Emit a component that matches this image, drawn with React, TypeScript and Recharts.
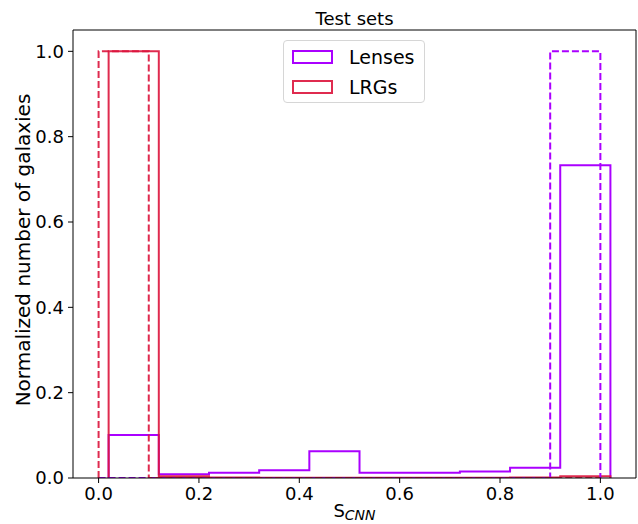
import React from "react";
import {
  ComposedChart,
  Line,
  XAxis,
  YAxis,
  Legend,
  ReferenceLine,
} from "recharts";

// Bin edges (solid histograms are offset by 0.02 from the dashed ones)
const solidEdges = [0.02, 0.12, 0.22, 0.32, 0.42, 0.52, 0.62, 0.72, 0.82, 0.92, 1.02];
const dashedEdges = [0.0, 0.1, 0.2, 0.3, 0.4, 0.5, 0.6, 0.7, 0.8, 0.9, 1.0];

// Normalized counts per bin
const lensesSolid = [0.101, 0.009, 0.0125, 0.018, 0.0625, 0.0125, 0.0125, 0.015, 0.024, 0.733];
const lrgsSolid = [1.0, 0.004, 0.001, 0.0005, 0.0005, 0.0005, 0.0005, 0.0005, 0.001, 0.004];
const lensesDashed = [0, 0, 0, 0, 0, 0, 0, 0, 0, 1.0];
const lrgsDashed = [1.0, 0, 0, 0, 0, 0, 0, 0, 0, 0];

const xTicks = [0.0, 0.2, 0.4, 0.6, 0.8, 1.0];
const yTicks = [0.0, 0.2, 0.4, 0.6, 0.8, 1.0];
const xDomain = [-0.051, 1.071];
const yDomain = [0, 1.05];

const seriesNames = ["Lenses", "LRGs"];
const LENS_COLOR = "#aa00ff";
const LRG_COLOR = "#dc143c";
const seriesColors = [LENS_COLOR, LRG_COLOR];

const FONT = "DejaVu Sans, sans-serif";

function toStep(edges: number[], values: number[]) {
  const pts: { x: number; y: number }[] = [{ x: edges[0], y: 0 }];
  values.forEach((v, i) => pts.push({ x: edges[i], y: v }));
  pts.push({ x: edges[edges.length - 1], y: 0 });
  return pts;
}

const LegendBox = () => (
  <div
    style={{
      width: 142,
      height: 63,
      boxSizing: "border-box",
      border: "1px solid #d6d6d6",
      borderRadius: 4,
      background: "rgba(255,255,255,0.8)",
      fontFamily: FONT,
      fontSize: 19,
      position: "relative",
    }}
  >
    {seriesNames.map((n, i) => (
      <div key={n} style={{ position: "absolute", left: 8, top: 8 + i * 29.5, height: 16, display: "flex", alignItems: "center" }}>
        <div
          style={{
            width: 41,
            height: 14,
            boxSizing: "border-box",
            border: `2px solid ${seriesColors[i]}`,
            opacity: i === 1 ? 0.9 : 1,
          }}
        />
        <span style={{ marginLeft: 16, lineHeight: "16px", color: "#000" }}>{n}</span>
      </div>
    ))}
  </div>
);

const XLabel = (props: any) => {
  const vb = props.viewBox || {};
  const cx = vb.x + vb.width / 2;
  return (
    <text x={cx} y={517} textAnchor="middle" fontFamily={FONT} fill="#000">
      <tspan fontSize={18}>S</tspan>
      <tspan fontSize={14} fontStyle="italic" dy={3}>CNN</tspan>
    </text>
  );
};

const YLabel = (props: any) => {
  const vb = props.viewBox || {};
  const cy = vb.y + vb.height / 2 - 4;
  return (
    <text
      x={30}
      y={cy}
      transform={`rotate(-90, 30, ${cy})`}
      textAnchor="middle"
      fontFamily={FONT}
      fontSize={20}
      fill="#000"
    >
      Normalized number of galaxies
    </text>
  );
};

const Title = (props: any) => {
  const vb = props.viewBox || {};
  const cx = vb.x + vb.width / 2;
  return (
    <text x={cx} y={vb.y - 5} textAnchor="middle" fontFamily={FONT} fontSize={18} fill="#000">
      Test sets
    </text>
  );
};

export default function App() {
  const tickStyle = { fontFamily: FONT, fontSize: 18, fill: "#000" };
  return (
    <div style={{ position: "absolute", left: 0, top: 0, width: 638, height: 524, background: "#fff" }}>
      <ComposedChart
        width={638}
        height={524}
        margin={{ top: 30, right: 2, bottom: 0, left: 0 }}
      >
        <XAxis
          dataKey="x"
          type="number"
          domain={xDomain}
          allowDataOverflow
          ticks={xTicks}
          tickFormatter={(v: number) => v.toFixed(1)}
          tick={tickStyle}
          tickSize={5}
          tickMargin={4}
          height={46}
          stroke="#000"
          axisLine={{ stroke: "#000", strokeWidth: 1 }}
          tickLine={{ stroke: "#000", strokeWidth: 1 }}
          label={<XLabel />}
        />
        <YAxis
          type="number"
          domain={yDomain}
          allowDataOverflow
          ticks={yTicks}
          tickFormatter={(v: number) => v.toFixed(1)}
          tick={tickStyle}
          tickSize={5}
          tickMargin={4}
          width={73}
          stroke="#000"
          axisLine={{ stroke: "#000", strokeWidth: 1 }}
          tickLine={{ stroke: "#000", strokeWidth: 1 }}
          label={<YLabel />}
        />
        <ReferenceLine y={yDomain[1]} stroke="#000" strokeWidth={1} ifOverflow="visible" label={<Title />} />
        <ReferenceLine x={xDomain[1]} stroke="#000" strokeWidth={1} ifOverflow="visible" />
        <Legend
          layout="vertical"
          align="center"
          verticalAlign="middle"
          wrapperStyle={{ left: 283, top: 40, width: 142, height: 63 }}
          content={<LegendBox />}
        />
        <Line
          data={toStep(solidEdges, lensesSolid)}
          dataKey="y"
          type="stepAfter"
          stroke={LENS_COLOR}
          strokeWidth={2}
          dot={false}
          activeDot={false}
          isAnimationActive={false}
          legendType="none"
        />
        <Line
          data={toStep(solidEdges, lrgsSolid)}
          dataKey="y"
          type="stepAfter"
          stroke={LRG_COLOR}
          strokeOpacity={0.9}
          strokeWidth={2}
          dot={false}
          activeDot={false}
          isAnimationActive={false}
          legendType="none"
        />
        <Line
          data={toStep(dashedEdges, lensesDashed)}
          dataKey="y"
          type="stepAfter"
          stroke={LENS_COLOR}
          strokeWidth={2}
          strokeDasharray="7 3"
          dot={false}
          activeDot={false}
          isAnimationActive={false}
          legendType="none"
        />
        <Line
          data={toStep(dashedEdges, lrgsDashed)}
          dataKey="y"
          type="stepAfter"
          stroke={LRG_COLOR}
          strokeOpacity={0.9}
          strokeWidth={2}
          strokeDasharray="7 3"
          dot={false}
          activeDot={false}
          isAnimationActive={false}
          legendType="none"
        />
      </ComposedChart>
    </div>
  );
}
